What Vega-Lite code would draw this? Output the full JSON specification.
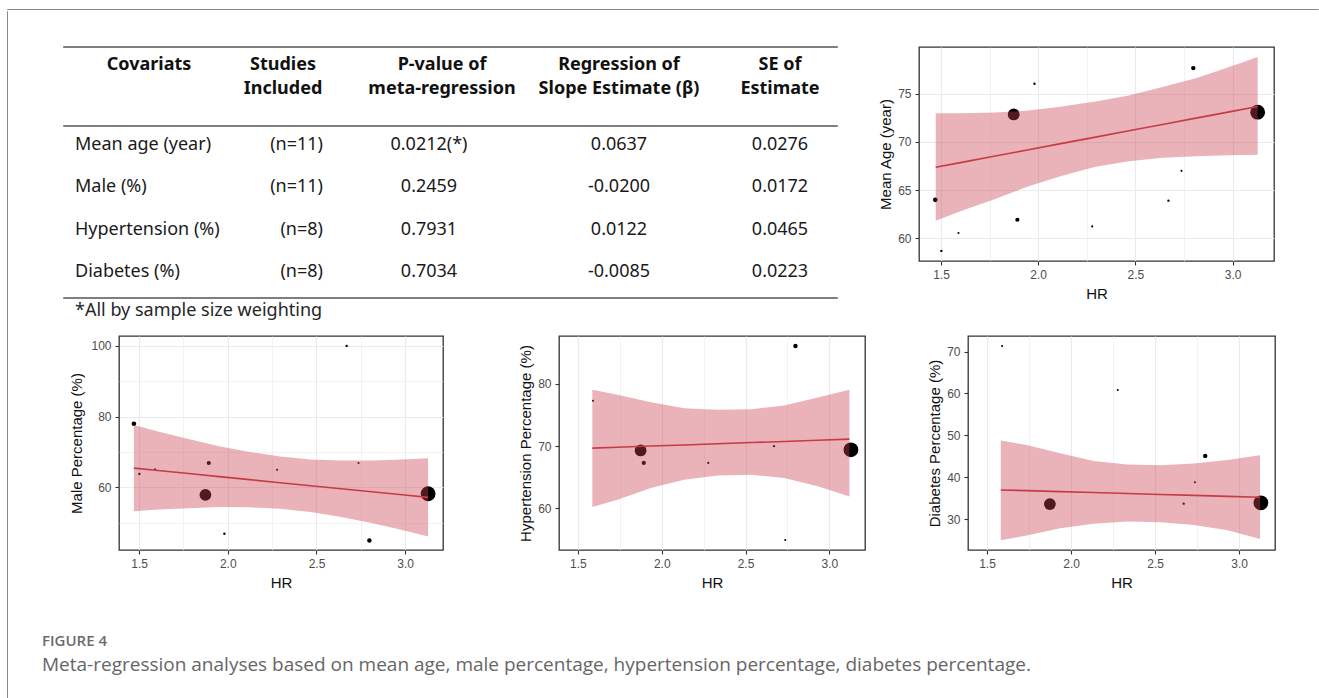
{
  "$schema": "https://vega.github.io/schema/vega-lite/v6.json",
  "padding": {"left": 6, "top": 8, "right": 0, "bottom": 0},
  "background": "#ffffff",
  "config": {
    "view": {"stroke": null},
    "axis": {"domain": false, "grid": true, "gridColor": "#EBEBEB", "tickColor": "#333333", "tickSize": 4, "tickWidth": 1.1, "labelColor": "#4D4D4D", "labelFont": "Liberation Sans", "labelFontSize": 12, "labelPadding": 4, "labelFlush": false, "labelOverlap": false, "labelBound": false, "titleFont": "Liberation Sans", "titleFontSize": 15, "titleFontWeight": "normal", "titleColor": "#111111"},
    "axisX": {"titlePadding": 6},
    "axisY": {"titlePadding": 4}
  },
  "datasets": {
    "studies": [
      {"hr": 1.471, "w": 2000, "age": 64.0, "male": 78.0, "htn": null, "dm": null},
      {"hr": 1.502, "w": 500, "age": 58.7, "male": 63.8, "htn": null, "dm": null},
      {"hr": 1.59, "w": 400, "age": 60.55, "male": 65.1, "htn": 77.3, "dm": 71.3},
      {"hr": 1.874, "w": 12700, "age": 72.85, "male": 57.9, "htn": 69.3, "dm": 33.6},
      {"hr": 1.893, "w": 1600, "age": 61.93, "male": 66.9, "htn": 67.3, "dm": 33.8},
      {"hr": 1.981, "w": 500, "age": 76.04, "male": 46.9, "htn": null, "dm": null},
      {"hr": 2.278, "w": 400, "age": 61.24, "male": 65.0, "htn": 67.3, "dm": 60.8},
      {"hr": 2.67, "w": 500, "age": 63.91, "male": 100, "htn": 70.0, "dm": 33.7},
      {"hr": 2.737, "w": 400, "age": 67.0, "male": 66.9, "htn": 54.9, "dm": 38.8},
      {"hr": 2.798, "w": 1800, "age": 77.66, "male": 45.0, "htn": 86.1, "dm": 45.1},
      {"hr": 3.129, "w": 20000, "age": 73.09, "male": 58.2, "htn": 69.4, "dm": 33.9}
    ],
    "band_age": [
      {"hr": 1.473, "lo": 61.83, "hi": 72.99, "fit": 67.37},
      {"hr": 1.607, "lo": 62.87, "hi": 72.99, "fit": 67.88},
      {"hr": 1.779, "lo": 64.08, "hi": 73.06, "fit": 68.54},
      {"hr": 1.951, "lo": 65.40, "hi": 73.26, "fit": 69.19},
      {"hr": 2.123, "lo": 66.50, "hi": 73.68, "fit": 69.85},
      {"hr": 2.295, "lo": 67.44, "hi": 74.20, "fit": 70.50},
      {"hr": 2.467, "lo": 68.00, "hi": 74.82, "fit": 71.16},
      {"hr": 2.639, "lo": 68.35, "hi": 75.69, "fit": 71.81},
      {"hr": 2.811, "lo": 68.51, "hi": 76.62, "fit": 72.47},
      {"hr": 2.983, "lo": 68.62, "hi": 77.77, "fit": 73.12},
      {"hr": 3.129, "lo": 68.66, "hi": 78.81, "fit": 73.68}
    ],
    "band_male": [
      {"hr": 1.471, "lo": 53.29, "hi": 77.61, "fit": 65.45},
      {"hr": 1.607, "lo": 53.74, "hi": 75.80, "fit": 64.77},
      {"hr": 1.779, "lo": 54.12, "hi": 73.70, "fit": 63.91},
      {"hr": 1.951, "lo": 54.48, "hi": 71.62, "fit": 63.05},
      {"hr": 2.123, "lo": 54.36, "hi": 70.02, "fit": 62.19},
      {"hr": 2.295, "lo": 53.96, "hi": 68.70, "fit": 61.33},
      {"hr": 2.467, "lo": 53.05, "hi": 67.91, "fit": 60.48},
      {"hr": 2.639, "lo": 51.62, "hi": 67.62, "fit": 59.62},
      {"hr": 2.811, "lo": 49.93, "hi": 67.59, "fit": 58.76},
      {"hr": 2.983, "lo": 47.94, "hi": 67.86, "fit": 57.90},
      {"hr": 3.129, "lo": 46.10, "hi": 68.24, "fit": 57.17}
    ],
    "band_htn": [
      {"hr": 1.586, "lo": 60.21, "hi": 79.04, "fit": 69.68},
      {"hr": 1.736, "lo": 61.39, "hi": 78.24, "fit": 69.82},
      {"hr": 1.935, "lo": 63.26, "hi": 77.06, "fit": 70.01},
      {"hr": 2.134, "lo": 64.60, "hi": 76.10, "fit": 70.19},
      {"hr": 2.333, "lo": 65.29, "hi": 75.83, "fit": 70.38},
      {"hr": 2.532, "lo": 65.40, "hi": 75.94, "fit": 70.57},
      {"hr": 2.731, "lo": 64.86, "hi": 76.53, "fit": 70.75},
      {"hr": 2.931, "lo": 63.53, "hi": 77.81, "fit": 70.94},
      {"hr": 3.12, "lo": 61.92, "hi": 79.04, "fit": 71.12}
    ],
    "band_dm": [
      {"hr": 1.582, "lo": 24.96, "hi": 48.75, "fit": 36.98},
      {"hr": 1.736, "lo": 26.08, "hi": 47.72, "fit": 36.81},
      {"hr": 1.935, "lo": 27.83, "hi": 45.73, "fit": 36.58},
      {"hr": 2.134, "lo": 28.94, "hi": 43.90, "fit": 36.35},
      {"hr": 2.333, "lo": 29.42, "hi": 43.02, "fit": 36.13},
      {"hr": 2.532, "lo": 29.26, "hi": 42.86, "fit": 35.90},
      {"hr": 2.731, "lo": 28.62, "hi": 43.26, "fit": 35.68},
      {"hr": 2.931, "lo": 27.35, "hi": 44.14, "fit": 35.45},
      {"hr": 3.124, "lo": 25.28, "hi": 45.25, "fit": 35.23}
    ],
    "table": [
      {"Covariate": "Mean age (year)", "Studies": "(n=11)", "P": "0.0212(*)", "Beta": "0.0637", "SE": "0.0276"},
      {"Covariate": "Male (%)", "Studies": "(n=11)", "P": "0.2459", "Beta": "-0.0200", "SE": "0.0172"},
      {"Covariate": "Hypertension (%)", "Studies": "(n=8)", "P": "0.7931", "Beta": "0.0122", "SE": "0.0465"},
      {"Covariate": "Diabetes (%)", "Studies": "(n=8)", "P": "0.7034", "Beta": "-0.0085", "SE": "0.0223"}
    ]
  },
  "spacing": 0,
  "vconcat": [
    {"width": 1311, "height": 0.01, "data": {"values": []}, "mark": "point", "view": {"stroke": "#888888", "strokeWidth": 1}},
    {"spacing": 0, "hconcat": [
      {"width": 0.01, "height": 688, "data": {"values": []}, "mark": "point", "view": {"stroke": "#888888", "strokeWidth": 1}},
      {"width": 34, "height": 0.01, "data": {"values": []}, "mark": "point"},
      {"spacing": 0, "vconcat": [
        {"width": 0.01, "height": 34.5, "data": {"values": []}, "mark": "point"},
        {"spacing": 0, "hconcat": [
          {"width": 21, "height": 0.01, "data": {"values": []}, "mark": "point"},
          {"spacing": 0, "vconcat": [
            {"width": 773, "height": 0.01, "data": {"values": []}, "mark": "point", "view": {"stroke": "#555555", "strokeWidth": 1.6}},
            {"spacing": 0, "bounds": "flush", "hconcat": [
              {"width": 85, "height": 0.01, "data": {"values": []}, "mark": "point"},
              {"width": 0.01, "height": 58, "data": {"values": [{}]}, "mark": {"type": "text", "font": "Noto Sans", "fontSize": 18, "fontWeight": "bold", "lineHeight": 24, "dy": -12, "color": "#111111", "baseline": "middle", "align": "center"}, "encoding": {"text": {"value": ["Covariats", " "]}}},
              {"width": 133, "height": 0.01, "data": {"values": []}, "mark": "point"},
              {"width": 0.01, "height": 58, "data": {"values": [{}]}, "mark": {"type": "text", "font": "Noto Sans", "fontSize": 18, "fontWeight": "bold", "lineHeight": 24, "dy": -12, "color": "#111111", "baseline": "middle", "align": "center"}, "encoding": {"text": {"value": ["Studies", "Included"]}}},
              {"width": 158, "height": 0.01, "data": {"values": []}, "mark": "point"},
              {"width": 0.01, "height": 58, "data": {"values": [{}]}, "mark": {"type": "text", "font": "Noto Sans", "fontSize": 18, "fontWeight": "bold", "lineHeight": 24, "dy": -12, "color": "#111111", "baseline": "middle", "align": "center"}, "encoding": {"text": {"value": ["P-value of", "meta-regression"]}}},
              {"width": 176, "height": 0.01, "data": {"values": []}, "mark": "point"},
              {"width": 0.01, "height": 58, "data": {"values": [{}]}, "mark": {"type": "text", "font": "Noto Sans", "fontSize": 18, "fontWeight": "bold", "lineHeight": 24, "dy": -12, "color": "#111111", "baseline": "middle", "align": "center"}, "encoding": {"text": {"value": ["Regression of", "Slope Estimate (β)"]}}},
              {"width": 160, "height": 0.01, "data": {"values": []}, "mark": "point"},
              {"width": 0.01, "height": 58, "data": {"values": [{}]}, "mark": {"type": "text", "font": "Noto Sans", "fontSize": 18, "fontWeight": "bold", "lineHeight": 24, "dy": -12, "color": "#111111", "baseline": "middle", "align": "center"}, "encoding": {"text": {"value": ["SE of", "Estimate"]}}}
            ]},
            {"width": 0.01, "height": 19, "data": {"values": []}, "mark": "point"},
            {"width": 773, "height": 0.01, "data": {"values": []}, "mark": "point", "view": {"stroke": "#555555", "strokeWidth": 1.6}},
            {"spacing": 0, "bounds": "flush", "hconcat": [
              {"width": 11, "height": 0.01, "data": {"values": []}, "mark": "point"},
              {"width": 0.01, "height": 170, "data": {"name": "table"}, "mark": {"type": "text", "font": "Noto Sans", "fontSize": 18, "color": "#1a1a1a", "baseline": "middle", "align": "left"}, "encoding": {"y": {"field": "Covariate", "type": "nominal", "sort": null, "scale": {"type": "point", "domain": ["Mean age (year)", "Male (%)", "Hypertension (%)", "Diabetes (%)"], "padding": 0.508, "align": 0.42}, "axis": null}, "text": {"field": "Covariate", "type": "nominal"}}},
              {"width": 247, "height": 0.01, "data": {"values": []}, "mark": "point"},
              {"width": 0.01, "height": 170, "data": {"name": "table"}, "mark": {"type": "text", "font": "Noto Sans", "fontSize": 18, "color": "#1a1a1a", "baseline": "middle", "align": "right"}, "encoding": {"y": {"field": "Covariate", "type": "nominal", "sort": null, "scale": {"type": "point", "domain": ["Mean age (year)", "Male (%)", "Hypertension (%)", "Diabetes (%)"], "padding": 0.508, "align": 0.42}, "axis": null}, "text": {"field": "Studies", "type": "nominal"}}},
              {"width": 105, "height": 0.01, "data": {"values": []}, "mark": "point"},
              {"width": 0.01, "height": 170, "data": {"name": "table"}, "mark": {"type": "text", "font": "Noto Sans", "fontSize": 18, "color": "#1a1a1a", "baseline": "middle", "align": "center"}, "encoding": {"y": {"field": "Covariate", "type": "nominal", "sort": null, "scale": {"type": "point", "domain": ["Mean age (year)", "Male (%)", "Hypertension (%)", "Diabetes (%)"], "padding": 0.508, "align": 0.42}, "axis": null}, "text": {"field": "P", "type": "nominal"}}},
              {"width": 189, "height": 0.01, "data": {"values": []}, "mark": "point"},
              {"width": 0.01, "height": 170, "data": {"name": "table"}, "mark": {"type": "text", "font": "Noto Sans", "fontSize": 18, "color": "#1a1a1a", "baseline": "middle", "align": "center"}, "encoding": {"y": {"field": "Covariate", "type": "nominal", "sort": null, "scale": {"type": "point", "domain": ["Mean age (year)", "Male (%)", "Hypertension (%)", "Diabetes (%)"], "padding": 0.508, "align": 0.42}, "axis": null}, "text": {"field": "Beta", "type": "nominal"}}},
              {"width": 160, "height": 0.01, "data": {"values": []}, "mark": "point"},
              {"width": 0.01, "height": 170, "data": {"name": "table"}, "mark": {"type": "text", "font": "Noto Sans", "fontSize": 18, "color": "#1a1a1a", "baseline": "middle", "align": "center"}, "encoding": {"y": {"field": "Covariate", "type": "nominal", "sort": null, "scale": {"type": "point", "domain": ["Mean age (year)", "Male (%)", "Hypertension (%)", "Diabetes (%)"], "padding": 0.508, "align": 0.42}, "axis": null}, "text": {"field": "SE", "type": "nominal"}}}
            ]},
            {"width": 773, "height": 0.01, "data": {"values": []}, "mark": "point", "view": {"stroke": "#555555", "strokeWidth": 1.6}},
            {"width": 0.01, "height": 2, "data": {"values": []}, "mark": "point"},
            {"spacing": 0, "bounds": "flush", "hconcat": [
              {"width": 11, "height": 0.01, "data": {"values": []}, "mark": "point"},
              {"width": 0.01, "height": 20, "data": {"values": [{}]}, "mark": {"type": "text", "font": "Noto Sans", "fontSize": 18, "color": "#262626", "baseline": "middle", "align": "left"}, "encoding": {"text": {"value": "*All by sample size weighting"}}}
            ]}
          ]},
          {"width": 40, "height": 0.01, "data": {"values": []}, "mark": "point"},
          {"width": 355, "height": 214, "view": {"stroke": "#333333", "strokeWidth": 1.3},
           "layer": [
             {"data": {"name": "studies"}, "transform": [{"filter": "isValid(datum.age)"}], "mark": {"type": "circle", "color": "#000000", "opacity": 1},
              "encoding": {
                "x": {"field": "hr", "type": "quantitative", "title": "HR", "scale": {"domain": [1.387, 3.213], "nice": false, "zero": false}},
                "y": {"field": "age", "type": "quantitative", "title": "Mean Age (year)", "scale": {"domain": [57.65, 79.85], "nice": false, "zero": false}},
                "size": {"field": "w", "type": "quantitative", "scale": {"type": "linear", "domain": [0, 20000], "range": [0, 219]}, "legend": null}
              }},
             {"data": {"name": "band_age"}, "mark": {"type": "area", "color": "#C8404F", "opacity": 0.4},
              "encoding": {
                "x": {"field": "hr", "type": "quantitative", "title": "HR", "scale": {"domain": [1.387, 3.213], "nice": false, "zero": false}, "axis": {"values": [1.5, 1.75, 2, 2.25, 2.5, 2.75, 3], "labelExpr": "round(datum.value*4) % 2 == 0 ? format(datum.value, '.1f') : ''", "tickOpacity": {"condition": {"test": "round(datum.value*4) % 2 == 1", "value": 0}, "value": 1}, "gridWidth": {"condition": {"test": "round(datum.value*4) % 2 == 1", "value": 0.6}, "value": 1.1}}},
                "y": {"field": "lo", "type": "quantitative", "title": "Mean Age (year)", "scale": {"domain": [57.65, 79.85], "nice": false, "zero": false}, "axis": {"values": [60, 62.5, 65, 67.5, 70, 72.5, 75, 77.5], "labelExpr": "round(datum.value*2) % 10 == 0 ? format(datum.value, 'd') : ''", "tickOpacity": {"condition": {"test": "round(datum.value*2) % 10 != 0", "value": 0}, "value": 1}, "gridWidth": {"condition": {"test": "round(datum.value*2) % 10 != 0", "value": 0.6}, "value": 1.1}}},
                "y2": {"field": "hi"}}},
             {"data": {"name": "band_age"}, "mark": {"type": "line", "color": "#C63B47", "strokeWidth": 1.6},
              "encoding": {"x": {"field": "hr", "type": "quantitative", "title": "HR", "scale": {"domain": [1.387, 3.213], "nice": false, "zero": false}}, "y": {"field": "fit", "type": "quantitative", "title": "Mean Age (year)", "scale": {"domain": [57.65, 79.85], "nice": false, "zero": false}}}}
           ]}
        ]},
        {"width": 0.01, "height": 14, "data": {"values": []}, "mark": "point"},
        {"spacing": 0, "bounds": "flush", "hconcat": [
          {"width": 77, "height": 0.01, "data": {"values": []}, "mark": "point"},
          {"width": 324, "height": 214, "view": {"stroke": "#333333", "strokeWidth": 1.3},
           "layer": [
             {"data": {"name": "studies"}, "transform": [{"filter": "isValid(datum.male)"}], "mark": {"type": "circle", "color": "#000000", "opacity": 1},
              "encoding": {
                "x": {"field": "hr", "type": "quantitative", "title": "HR", "scale": {"domain": [1.387, 3.213], "nice": false, "zero": false}},
                "y": {"field": "male", "type": "quantitative", "title": "Male Percentage (%)", "scale": {"domain": [42.3, 102.8], "nice": false, "zero": false}},
                "size": {"field": "w", "type": "quantitative", "scale": {"type": "linear", "domain": [0, 20000], "range": [0, 219]}, "legend": null}
              }},
             {"data": {"name": "band_male"}, "mark": {"type": "area", "color": "#C8404F", "opacity": 0.4},
              "encoding": {
                "x": {"field": "hr", "type": "quantitative", "title": "HR", "scale": {"domain": [1.387, 3.213], "nice": false, "zero": false}, "axis": {"values": [1.5, 1.75, 2, 2.25, 2.5, 2.75, 3], "labelExpr": "round(datum.value*4) % 2 == 0 ? format(datum.value, '.1f') : ''", "tickOpacity": {"condition": {"test": "round(datum.value*4) % 2 == 1", "value": 0}, "value": 1}, "gridWidth": {"condition": {"test": "round(datum.value*4) % 2 == 1", "value": 0.6}, "value": 1.1}}},
                "y": {"field": "lo", "type": "quantitative", "title": "Male Percentage (%)", "scale": {"domain": [42.3, 102.8], "nice": false, "zero": false}, "axis": {"titlePadding": 6, "values": [50, 60, 70, 80, 90, 100], "labelExpr": "round(datum.value) % 20 == 0 ? format(datum.value, 'd') : ''", "tickOpacity": {"condition": {"test": "round(datum.value) % 20 != 0", "value": 0}, "value": 1}, "gridWidth": {"condition": {"test": "round(datum.value) % 20 != 0", "value": 0.6}, "value": 1.1}}},
                "y2": {"field": "hi"}}},
             {"data": {"name": "band_male"}, "mark": {"type": "line", "color": "#C63B47", "strokeWidth": 1.6},
              "encoding": {"x": {"field": "hr", "type": "quantitative", "title": "HR", "scale": {"domain": [1.387, 3.213], "nice": false, "zero": false}}, "y": {"field": "fit", "type": "quantitative", "title": "Male Percentage (%)", "scale": {"domain": [42.3, 102.8], "nice": false, "zero": false}}}}
           ]},
          {"width": 116, "height": 0.01, "data": {"values": []}, "mark": "point"},
          {"width": 306, "height": 214, "view": {"stroke": "#333333", "strokeWidth": 1.3},
           "resolve": {"axis": {"y": "independent"}},
           "layer": [
             {"data": {"name": "studies"}, "transform": [{"filter": "isValid(datum.htn)"}], "mark": {"type": "circle", "color": "#000000", "opacity": 1},
              "encoding": {
                "x": {"field": "hr", "type": "quantitative", "title": "HR", "scale": {"domain": [1.387, 3.213], "nice": false, "zero": false}},
                "y": {"field": "htn", "type": "quantitative", "scale": {"domain": [53.3, 87.7], "nice": false, "zero": false}, "axis": null},
                "size": {"field": "w", "type": "quantitative", "scale": {"type": "linear", "domain": [0, 20000], "range": [0, 219]}, "legend": null}
              }},
             {"data": {"name": "band_htn"}, "mark": {"type": "area", "color": "#C8404F", "opacity": 0.4},
              "encoding": {
                "x": {"field": "hr", "type": "quantitative", "title": "HR", "scale": {"domain": [1.387, 3.213], "nice": false, "zero": false}, "axis": {"values": [1.5, 1.75, 2, 2.25, 2.5, 2.75, 3], "labelExpr": "round(datum.value*4) % 2 == 0 ? format(datum.value, '.1f') : ''", "tickOpacity": {"condition": {"test": "round(datum.value*4) % 2 == 1", "value": 0}, "value": 1}, "gridWidth": {"condition": {"test": "round(datum.value*4) % 2 == 1", "value": 0.6}, "value": 1.1}}},
                "y": {"field": "lo", "type": "quantitative", "title": "Hypertension Percentage (%)", "scale": {"domain": [53.3, 87.7], "nice": false, "zero": false}, "axis": {"values": [60, 70, 80], "format": "d", "gridWidth": 1.1}},
                "y2": {"field": "hi"}}},
             {"data": {"name": "band_htn"}, "mark": {"type": "line", "color": "#C63B47", "strokeWidth": 1.6},
              "encoding": {"x": {"field": "hr", "type": "quantitative", "title": "HR", "scale": {"domain": [1.387, 3.213], "nice": false, "zero": false}}, "y": {"field": "fit", "type": "quantitative", "title": null, "scale": {"domain": [53.3, 87.7], "nice": false, "zero": false}, "axis": {"values": [55, 65, 75, 85], "labels": false, "ticks": false, "title": null, "gridWidth": 0.6}}}}
           ]},
          {"width": 103, "height": 0.01, "data": {"values": []}, "mark": "point"},
          {"width": 307, "height": 214, "view": {"stroke": "#333333", "strokeWidth": 1.3},
           "resolve": {"axis": {"y": "independent"}},
           "layer": [
             {"data": {"name": "studies"}, "transform": [{"filter": "isValid(datum.dm)"}], "mark": {"type": "circle", "color": "#000000", "opacity": 1},
              "encoding": {
                "x": {"field": "hr", "type": "quantitative", "title": "HR", "scale": {"domain": [1.387, 3.213], "nice": false, "zero": false}},
                "y": {"field": "dm", "type": "quantitative", "scale": {"domain": [22.65, 73.7], "nice": false, "zero": false}, "axis": null},
                "size": {"field": "w", "type": "quantitative", "scale": {"type": "linear", "domain": [0, 20000], "range": [0, 219]}, "legend": null}
              }},
             {"data": {"name": "band_dm"}, "mark": {"type": "area", "color": "#C8404F", "opacity": 0.4},
              "encoding": {
                "x": {"field": "hr", "type": "quantitative", "title": "HR", "scale": {"domain": [1.387, 3.213], "nice": false, "zero": false}, "axis": {"values": [1.5, 1.75, 2, 2.25, 2.5, 2.75, 3], "labelExpr": "round(datum.value*4) % 2 == 0 ? format(datum.value, '.1f') : ''", "tickOpacity": {"condition": {"test": "round(datum.value*4) % 2 == 1", "value": 0}, "value": 1}, "gridWidth": {"condition": {"test": "round(datum.value*4) % 2 == 1", "value": 0.6}, "value": 1.1}}},
                "y": {"field": "lo", "type": "quantitative", "title": "Diabetes Percentage (%)", "scale": {"domain": [22.65, 73.7], "nice": false, "zero": false}, "axis": {"values": [30, 40, 50, 60, 70], "format": "d", "gridWidth": 1.1}},
                "y2": {"field": "hi"}}},
             {"data": {"name": "band_dm"}, "mark": {"type": "line", "color": "#C63B47", "strokeWidth": 1.6},
              "encoding": {"x": {"field": "hr", "type": "quantitative", "title": "HR", "scale": {"domain": [1.387, 3.213], "nice": false, "zero": false}}, "y": {"field": "fit", "type": "quantitative", "title": null, "scale": {"domain": [22.65, 73.7], "nice": false, "zero": false}, "axis": {"values": [25, 35, 45, 55, 65], "labels": false, "ticks": false, "title": null, "gridWidth": 0.6}}}}
           ]}
        ]},
        {"width": 0.01, "height": 38, "data": {"values": []}, "mark": "point"},
        {"spacing": 0, "bounds": "flush", "vconcat": [
          {"width": 0.01, "height": 24, "data": {"values": [{}]}, "mark": {"type": "text", "font": "Open Sans", "fontSize": 15, "fontWeight": 600, "color": "#6b6b6b", "baseline": "middle", "align": "left"}, "encoding": {"text": {"value": "FIGURE 4"}}},
          {"width": 0.01, "height": 24, "data": {"values": [{}]}, "mark": {"type": "text", "font": "Open Sans", "fontSize": 19, "color": "#666666", "baseline": "middle", "align": "left"}, "encoding": {"text": {"value": "Meta-regression analyses based on mean age, male percentage, hypertension percentage, diabetes percentage."}}}
        ]}
      ]}
    ]}
  ]
}
